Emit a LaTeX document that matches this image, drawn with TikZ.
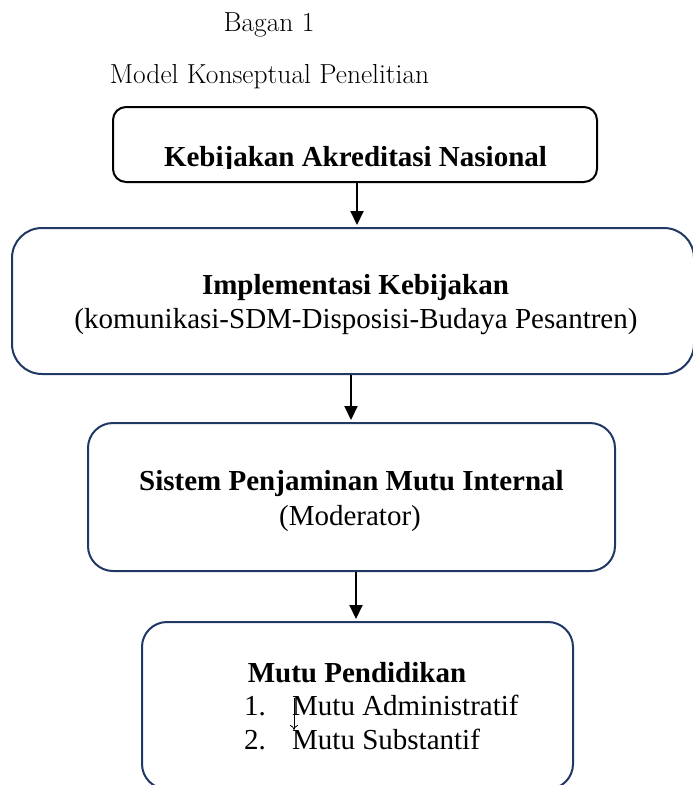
\documentclass[tikz,border=0pt]{standalone}
\usepackage{fontspec}
\setmainfont{Liberation Serif}
\newfontfamily\titlefont{Latin Modern Roman}
\usetikzlibrary{arrows.meta}
\definecolor{navy}{RGB}{32,56,100}
\begin{document}
\begin{tikzpicture}[x=1pt,y=-1pt,
  boxa/.style={draw=black, line width=2pt, rectangle, inner sep=0pt},
  boxb/.style={draw=navy, line width=2pt, rectangle, inner sep=0pt},
  tb/.style={anchor=base, inner sep=0pt, font=\fontsize{29}{34}\selectfont\bfseries},
  tr/.style={anchor=base, inner sep=0pt, font=\fontsize{29}{34}\selectfont},
  tl/.style={anchor=base west, inner sep=0pt, font=\fontsize{29}{34}\selectfont},
  tt/.style={anchor=base, inner sep=0pt, font=\titlefont\fontsize{27.5}{32}\selectfont},
  arr/.style={line width=2pt, -{Triangle[length=14pt,width=13pt]}, shorten >=2pt}]
\clip (0,0) rectangle (693,785);
\fill[white] (0,0) rectangle (693,785);
% titles
\node[tt] (bagan) at (269,31.5) {Bagan 1};
\node[tt] (model) at (269.5,83.5) {Model Konseptual Penelitian};
% boxes
\node[boxa, rounded corners=13pt, minimum width=484pt, minimum height=75pt] (b1) at (355,144.5) {};
\node[boxb, rounded corners=30pt, minimum width=682pt, minimum height=146pt] (b2) at (353,301) {};
\node[boxb, rounded corners=25pt, minimum width=527pt, minimum height=148pt] (b3) at (351.5,497) {};
\node[boxb, rounded corners=25pt, minimum width=431pt, minimum height=167pt] (b4) at (357.5,705.5) {};
% box 1 text (descender clipped)
\begin{scope}
\clip (100,100) rectangle (610,168.5);
\node[tb] (t1) at (355.5,166) {Kebijakan Akreditasi Nasional};
\end{scope}
% box 2 text
\node[tb] (t2a) at (355.5,294) {Implementasi Kebijakan};
\node[tr] (t2b) at (356,328) {(komunikasi-SDM-Disposisi-Budaya Pesantren)};
% box 3 text
\node[tb] (t3a) at (351.5,490) {Sistem Penjaminan Mutu Internal};
\node[tr] (t3b) at (350,525) {(Moderator)};
% box 4 text
\node[tb] (t4a) at (357,682) {Mutu Pendidikan};
\node[tl] (n1) at (244,715) {1.};
\node[tl] (m1) at (292,715) {Mutu Administratif};
\node[tl] (n2) at (244,749) {2.};
\node[tl] (m2) at (292,749) {Mutu Substantif};
% arrows
\draw[arr] ([xshift=2pt]b1.south) -- ([xshift=2pt]b1.south |- b2.north);
\draw[arr] ([xshift=-2pt]b2.south) -- ([xshift=-2pt]b2.south |- b3.north);
\draw[arr] ([xshift=4.5pt]b3.south) -- ([xshift=4.5pt]b3.south |- b4.north);
% small stray arrow
\coordinate (sa) at (294,698);
\coordinate (sb) at (294,730);
\draw[line width=0.8pt, -{To[length=5pt,width=8pt]}] (sa) -- (sb);
\end{tikzpicture}
\end{document}
